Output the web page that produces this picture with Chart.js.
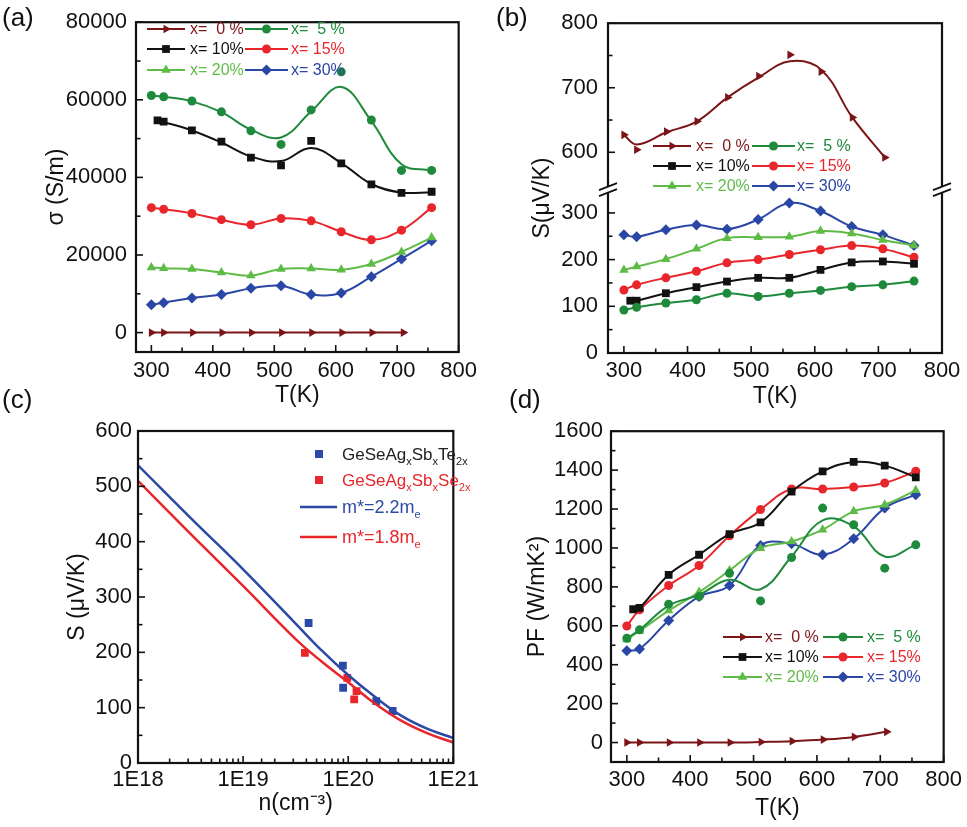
<!DOCTYPE html>
<html>
<head>
<meta charset="utf-8">
<script src="https://cdn.jsdelivr.net/npm/chart.js@4.4.1/dist/chart.umd.min.js"></script>
<style>
  body { margin: 0; background: #fff; width: 967px; height: 827px; position: relative; overflow: hidden;
         font-family: "Liberation Sans", Arial, sans-serif; }
  canvas { position: absolute; }
  .tag { position: absolute; font-size: 26px; line-height: 1; color: #111; }
</style>
</head>
<body>
<canvas id="chartA" width="483" height="410" style="left:0;top:0"></canvas>
<canvas id="chartB" width="484" height="410" style="left:483px;top:0"></canvas>
<canvas id="chartC" width="483" height="417" style="left:0;top:410px"></canvas>
<canvas id="chartD" width="484" height="417" style="left:483px;top:410px"></canvas>
<div class="tag" style="left:2px;top:4px">(a)</div>
<div class="tag" style="left:496px;top:4px">(b)</div>
<div class="tag" style="left:2px;top:386px">(c)</div>
<div class="tag" style="left:509px;top:386px">(d)</div>
<script>
const FONT = '"Liberation Sans", Arial, sans-serif';
Chart.defaults.font.family = FONT;
Chart.defaults.color = '#111';
Chart.defaults.animation = false;

// temperatures (K)
const T0 = [300, 320, 367, 415, 463, 512, 561, 610, 659, 710];
const T = [300, 320, 366, 414, 462, 511, 560, 609, 658, 707, 756];
const T10 = [310, 320, 366, 414, 462, 511, 560, 609, 658, 707, 756];

const seriesLabels = ['x=  0 %', 'x=  5 %', 'x= 10%', 'x= 15%', 'x= 20%', 'x= 30%'];
const seriesColors = ['#7b1518', '#1f8a3c', '#121212', '#e8262b', '#5ebb46', '#2b47a6'];
const seriesMarkers = ['triangle', 'circle', 'rect', 'circle', 'triangle', 'rectRot'];
const markerRotation = [90, 0, 0, 0, 0, 0];
const markerRadius = [5, 4.5, 5.5, 4.5, 5.5, 5.5];

// (a) electrical conductivity, S/m
const sigma0 = [0, 0, 0, 0, 0, 0, 0, 0, 0, 0];
const sigma5 = [61100, 60800, 59700, 56900, 52000, 48500, 57400, 67200, 54800, 41800, 41800];
const sigma10 = [54700, 54400, 52100, 49200, 45100, 43100, 49400, 43600, 38200, 36000, 36300];
const sigma15 = [32200, 31800, 30700, 29100, 27800, 29400, 28800, 26000, 23900, 26400, 32200];
const sigma20 = [16800, 16600, 16400, 15500, 14700, 16400, 16500, 16200, 17700, 20800, 24500];
const sigma30 = [7200, 7700, 8900, 9800, 11400, 12100, 9800, 10200, 14400, 19000, 23700];
// smoothed curves as drawn (where they leave the symbols)
const sigma5Curve = [61100, 60800, 59600, 56800, 52300, 50300, 57000, 63300, 54500, 43400, 41800];
const sigma10Curve = [54700, 54300, 52100, 49000, 45400, 44200, 47600, 43700, 38300, 36100, 36200];

// (b) Seebeck coefficient, uV/K
const seeb0 = [627, 604, 632, 648, 685, 718, 751, 725, 654, 592];
const seeb5 = [92, 98, 107, 114, 128, 121, 128, 134, 142, 146, 154];
const seeb10 = [112, 112, 128, 141, 153, 161, 161, 178, 194, 196, 191];
const seeb15 = [135, 146, 161, 175, 193, 200, 211, 221, 230, 223, 205];
const seeb20 = [178, 185, 201, 223, 246, 248, 249, 261, 256, 242, 230];
const seeb30 = [253, 249, 264, 274, 265, 286, 321, 304, 271, 253, 230];
const seeb0Curve = [627, 612, 631, 648, 685, 716, 741, 728, 654, 592];

// (c) Seebeck vs carrier concentration
const nTe = [4.2e19, 8.9e19, 8.95e19, 1.85e20, 2.65e20];
const sTe = [253, 176, 136, 112, 94];
const nSe = [3.87e19, 9.8e19, 1.14e20, 1.2e20];
const sSe = [199, 154, 115, 130];
const nFit = [1e18, 3.16e18, 1e19, 3.16e19, 5.62e19, 1e20, 1.78e20, 3.16e20, 5.62e20, 1e21];
const sFit22 = [538, 443, 350, 252, 203, 159, 120, 86, 62, 45];
const sFit18 = [510, 414, 320, 224, 183, 146, 108, 77, 54, 37];

// (d) power factor, uW/mK^2
const pf0 = [0, 0, 0, 0, 0, 3, 7, 15, 29, 55];
const pf5 = [536, 579, 711, 750, 870, 728, 951, 1205, 1119, 896, 1016];
const pf10 = [685, 692, 862, 965, 1071, 1131, 1290, 1394, 1442, 1423, 1363];
const pf15 = [599, 682, 807, 910, 1063, 1197, 1303, 1303, 1313, 1334, 1394];
const pf20 = [530, 573, 678, 773, 884, 999, 1033, 1094, 1188, 1222, 1296];
const pf30 = [472, 481, 627, 750, 807, 1013, 1021, 965, 1047, 1205, 1274];
const pf5Curve = [536, 579, 704, 759, 836, 788, 956, 1142, 1111, 956, 1016];

function tempSets(values, curves, axisFor) {
    const sets = [];
    values.forEach((ys, i) => {
        const xs = i === 0 ? T0 : (i === 2 ? T10 : T);
        const line = curves[i] || ys;
        const yAxisID = axisFor ? axisFor(i) : 'y';
        sets.push({
            data: line.map((v, k) => ({ x: xs[k], y: v })),
            borderColor: seriesColors[i],
            borderWidth: 2,
            pointRadius: 0,
            tension: 0.4,
            yAxisID: yAxisID
        });
        sets.push({
            data: ys.map((v, k) => ({ x: xs[k], y: v })),
            showLine: false,
            pointStyle: seriesMarkers[i],
            pointRotation: markerRotation[i],
            pointRadius: markerRadius[i],
            pointBackgroundColor: seriesColors[i],
            pointBorderColor: seriesColors[i],
            pointBorderWidth: 0,
            yAxisID: yAxisID
        });
    });
    return sets;
}

function fixSize(w, h) {
    return function(scale) {
        if (w !== null) scale.width = w;
        if (h !== null) scale.height = h;
    };
}

// ticks on every multiple of step inside the axis range
function stepTicks(step) {
    return function(scale) {
        const out = [];
        const start = Math.ceil(scale.min / step) * step;
        for (let v = start; v <= scale.max + 1e-9; v += step) out.push({ value: v });
        scale.ticks = out;
    };
}

function tempAxis(pad, height) {
    return {
        type: 'linear',
        min: 275,
        max: 800,
        bounds: 'data',
        grid: { display: false, drawTicks: false },
        border: { display: false },
        ticks: {
            autoSkip: false,
            maxRotation: 0,
            padding: pad,
            font: { size: 22 },
            callback: v => (v % 100 === 0 ? String(v) : '')
        },
        title: { display: true, text: 'T(K)', font: { size: 23 }, padding: { top: 0, bottom: height.titlePad } },
        afterBuildTicks: stepTicks(50),
        afterFit: fixSize(null, height.h)
    };
}

function valueAxis(min, max, step, labelEvery, pad, width, title, titlePad) {
    return {
        type: 'linear',
        min: min,
        max: max,
        bounds: 'data',
        grid: { display: false, drawTicks: false },
        border: { display: false },
        ticks: {
            autoSkip: false,
            padding: pad,
            font: { size: 22 },
            callback: v => (v >= 0 && v % labelEvery === 0 ? String(v) : '')
        },
        title: title ? { display: true, text: title, font: { size: 23 }, padding: { top: titlePad, bottom: 0 } } : { display: false },
        afterBuildTicks: stepTicks(step),
        afterFit: fixSize(width, null)
    };
}

// inward tick marks + box frame
function frameTicks(spec) {
    return {
        id: 'frameTicks',
        afterDraw(chart) {
            const ctx = chart.ctx;
            const a = chart.chartArea;
            ctx.save();
            ctx.strokeStyle = '#111';
            ctx.lineWidth = 1.6;
            Object.keys(spec).forEach(id => {
                const sc = chart.scales[id];
                sc.ticks.forEach(t => {
                    const kind = spec[id](t.value);
                    if (!kind) return;
                    const len = kind === 'major' ? 7 : 4.5;
                    const p = sc.getPixelForValue(t.value);
                    ctx.beginPath();
                    if (sc.isHorizontal()) {
                        ctx.moveTo(p, a.bottom);
                        ctx.lineTo(p, a.bottom - len);
                    } else {
                        ctx.moveTo(a.left, p);
                        ctx.lineTo(a.left + len, p);
                    }
                    ctx.stroke();
                });
            });
            ctx.lineWidth = 2.2;
            ctx.strokeRect(a.left, a.top, a.right - a.left, a.bottom - a.top);
            ctx.restore();
        }
    };
}

function drawMarker(ctx, i, x, y) {
    ctx.fillStyle = seriesColors[i];
    if (Chart.helpers && Chart.helpers.drawPoint) {
        Chart.helpers.drawPoint(ctx, {
            pointStyle: seriesMarkers[i],
            rotation: markerRotation[i],
            radius: markerRadius[i],
            borderWidth: 0
        }, x, y);
    } else {
        ctx.beginPath();
        ctx.arc(x, y, markerRadius[i], 0, Math.PI * 2);
        ctx.fill();
    }
}

function tempLegend(geo) {
    return {
        id: 'tempLegend',
        afterDraw(chart) {
            const ctx = chart.ctx;
            ctx.save();
            ctx.font = '16px ' + FONT;
            ctx.textBaseline = 'middle';
            seriesLabels.forEach((lab, i) => {
                const col = i % 2;
                const y = geo.rows[Math.floor(i / 2)];
                const x1 = geo.lines[col][0];
                const x2 = geo.lines[col][1];
                ctx.strokeStyle = seriesColors[i];
                ctx.lineWidth = 2;
                ctx.beginPath();
                ctx.moveTo(x1, y);
                ctx.lineTo(x2, y);
                ctx.stroke();
                drawMarker(ctx, i, (x1 + x2) / 2, y);
                ctx.fillStyle = seriesColors[i];
                ctx.fillText(lab, geo.text[col], y + 1);
            });
            ctx.restore();
        }
    };
}

const tempTicks = v => (v < 300 ? null : (v % 100 === 0 ? 'major' : 'minor'));

// ---------- (a) ----------
new Chart(document.getElementById('chartA'), {
    type: 'line',
    data: {
        datasets: tempSets([sigma0, sigma5, sigma10, sigma15, sigma20, sigma30],
            [null, sigma5Curve, sigma10Curve, null, null, null])
    },
    options: {
        responsive: false,
        layout: { padding: { top: 20, right: 13, left: 0, bottom: 0 } },
        plugins: { legend: { display: false }, tooltip: { enabled: false } },
        scales: {
            x: tempAxis(6, { h: 58, titlePad: 1 }),
            y: valueAxis(-5000, 80000, 10000, 20000, 9, 136, '\u03c3 (S/m)', 43)
        }
    },
    plugins: [
        frameTicks({ x: tempTicks, y: v => (v < 0 ? null : (v % 20000 === 0 ? 'major' : 'minor')) }),
        tempLegend({ lines: [[147, 185], [245, 288]], text: [190, 291], rows: [29, 49, 70] })
    ]
});

// ---------- (b) ----------
const breakMarks = {
    id: 'breakMarks',
    afterDraw(chart) {
        const ctx = chart.ctx;
        const a = chart.chartArea;
        const y = chart.scales.yTop.bottom;
        ctx.save();
        [a.left, a.right].forEach(x => {
            ctx.fillStyle = '#fff';
            ctx.beginPath();
            ctx.moveTo(x - 9, y + 1);
            ctx.lineTo(x + 9, y - 6);
            ctx.lineTo(x + 9, y);
            ctx.lineTo(x - 9, y + 7);
            ctx.closePath();
            ctx.fill();
            ctx.strokeStyle = '#111';
            ctx.lineWidth = 1.8;
            [-3, 3].forEach(d => {
                ctx.beginPath();
                ctx.moveTo(x - 9, y + 4 + d);
                ctx.lineTo(x + 9, y - 3 + d);
                ctx.stroke();
            });
        });
        ctx.fillStyle = '#111';
        ctx.font = '23px ' + FONT;
        ctx.textAlign = 'center';
        ctx.textBaseline = 'middle';
        ctx.translate(60, 198);
        ctx.rotate(-Math.PI / 2);
        ctx.fillText('S(\u03bcV/K)', 0, 0);
        ctx.restore();
    }
};

const axisBLow = valueAxis(0, 351, 50, 100, 10, 125, null, 0);
axisBLow.stack = 'seebeck';
axisBLow.stackWeight = 165;
axisBLow.position = 'left';
const axisBTop = valueAxis(543, 800, 50, 100, 10, 125, null, 0);
axisBTop.stack = 'seebeck';
axisBTop.stackWeight = 167;
axisBTop.position = 'left';

new Chart(document.getElementById('chartB'), {
    type: 'line',
    data: {
        datasets: tempSets([seeb0, seeb5, seeb10, seeb15, seeb20, seeb30],
            [seeb0Curve, null, null, null, null, null], i => (i === 0 ? 'yTop' : 'y'))
    },
    options: {
        responsive: false,
        layout: { padding: { top: 21, right: 25, left: 0, bottom: 0 } },
        plugins: { legend: { display: false }, tooltip: { enabled: false } },
        scales: {
            x: tempAxis(5, { h: 57, titlePad: 0 }),
            y: axisBLow,
            yTop: axisBTop
        }
    },
    plugins: [
        frameTicks({
            x: tempTicks,
            y: v => (v > 340 ? null : (v % 100 === 0 ? 'major' : 'minor')),
            yTop: v => (v < 600 ? null : (v % 100 === 0 ? 'major' : 'minor'))
        }),
        breakMarks,
        tempLegend({ lines: [[170, 208], [269, 312]], text: [213, 314], rows: [146, 166, 186] })
    ]
});

// ---------- (c) ----------
function richText(ctx, parts, x, y, size, color) {
    ctx.fillStyle = color;
    ctx.textBaseline = 'alphabetic';
    let cx = x;
    parts.forEach(p => {
        const sub = p.charAt(0) === '_';
        const txt = sub ? p.slice(1) : p;
        ctx.font = (sub ? Math.round(size * 0.62) : size) + 'px ' + FONT;
        ctx.fillText(txt, cx, y + (sub ? size * 0.3 : 0));
        cx += ctx.measureText(txt).width;
    });
}

const carrierLegend = {
    id: 'carrierLegend',
    afterDraw(chart) {
        const ctx = chart.ctx;
        ctx.save();
        ctx.fillStyle = '#2b4aa6';
        ctx.fillRect(315, 40, 8, 8);
        ctx.fillStyle = '#e8262b';
        ctx.fillRect(315, 66, 8, 8);
        ctx.lineWidth = 2.5;
        ctx.strokeStyle = '#2b4aa6';
        ctx.beginPath(); ctx.moveTo(300, 97); ctx.lineTo(337, 97); ctx.stroke();
        ctx.strokeStyle = '#e8262b';
        ctx.beginPath(); ctx.moveTo(300, 127); ctx.lineTo(337, 127); ctx.stroke();
        richText(ctx, ['GeSeAg', '_x', 'Sb', '_x', 'Te', '_2x'], 342, 50, 17, '#222');
        richText(ctx, ['GeSeAg', '_x', 'Sb', '_x', 'Se', '_2x'], 342, 76, 17, '#e8262b');
        richText(ctx, ['m*=2.2m', '_e'], 342, 103, 18, '#2b4aa6');
        richText(ctx, ['m*=1.8m', '_e'], 342, 133, 18, '#e8262b');
        ctx.restore();
    }
};

new Chart(document.getElementById('chartC'), {
    type: 'line',
    data: {
        datasets: [
            { data: nFit.map((n, k) => ({ x: n, y: sFit22[k] })), borderColor: '#2b4aa6', borderWidth: 2.5, pointRadius: 0, tension: 0.4 },
            { data: nFit.map((n, k) => ({ x: n, y: sFit18[k] })), borderColor: '#e8262b', borderWidth: 2.5, pointRadius: 0, tension: 0.4 },
            { data: nTe.map((n, k) => ({ x: n, y: sTe[k] })), showLine: false, pointStyle: 'rect', pointRadius: 5.5,
              pointBackgroundColor: '#2b4aa6', pointBorderWidth: 0 },
            { data: nSe.map((n, k) => ({ x: n, y: sSe[k] })), showLine: false, pointStyle: 'rect', pointRadius: 5.5,
              pointBackgroundColor: '#e8262b', pointBorderWidth: 0 }
        ]
    },
    options: {
        responsive: false,
        layout: { padding: { top: 21, right: 10, left: 0, bottom: 0 } },
        plugins: { legend: { display: false }, tooltip: { enabled: false } },
        scales: {
            x: {
                type: 'logarithmic',
                min: 1e18,
                max: 1e21,
                grid: { display: false, drawTicks: false },
                border: { display: false },
                ticks: {
                    autoSkip: false,
                    maxRotation: 0,
                    padding: 4,
                    font: { size: 22 },
                    callback: v => {
                        const l = Math.log10(v);
                        return Math.abs(l - Math.round(l)) < 1e-9 ? '1E' + Math.round(l) : '';
                    }
                },
                title: { display: true, text: 'n(cm\u207b\u00b3)', font: { size: 23 }, padding: { top: 0, bottom: 10 } },
                afterFit: fixSize(null, 64)
            },
            y: valueAxis(0, 600, 50, 100, 6, 138, 'S (\u03bcV/K)', 64)
        }
    },
    plugins: [
        frameTicks({
            x: v => {
                const l = Math.log10(v);
                return Math.abs(l - Math.round(l)) < 1e-9 ? 'major' : 'minor';
            },
            y: v => (v % 100 === 0 ? 'major' : 'minor')
        }),
        carrierLegend
    ]
});

// ---------- (d) ----------
new Chart(document.getElementById('chartD'), {
    type: 'line',
    data: {
        datasets: tempSets([pf0, pf5, pf10, pf15, pf20, pf30],
            [null, pf5Curve, null, null, null, null])
    },
    options: {
        responsive: false,
        layout: { padding: { top: 19, right: 22, left: 0, bottom: 0 } },
        plugins: { legend: { display: false }, tooltip: { enabled: false } },
        scales: {
            x: tempAxis(5, { h: 65, titlePad: 5 }),
            y: valueAxis(-100, 1600, 100, 200, 8, 128, 'PF (W/mK\u00b2)', 41)
        }
    },
    plugins: [
        frameTicks({ x: tempTicks, y: v => (v < 0 ? null : (v % 200 === 0 ? 'major' : 'minor')) }),
        tempLegend({ lines: [[240, 279], [340, 380]], text: [282, 384], rows: [227, 247, 267] })
    ]
});
</script>
</body>
</html>
